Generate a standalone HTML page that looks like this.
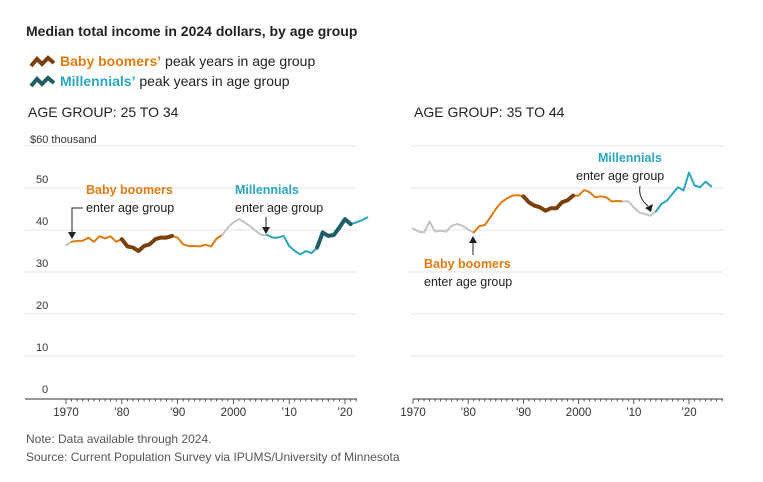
<!DOCTYPE html>
<html><head><meta charset="utf-8">
<style>
body{margin:0;background:#fff;width:763px;height:477px;overflow:hidden;font-family:"Liberation Sans",sans-serif;}
svg text{font-family:"Liberation Sans",sans-serif;}
</style></head>
<body>
<svg id="chart" width="763" height="477" xmlns="http://www.w3.org/2000/svg">
<text x="26" y="36" font-size="14" font-weight="bold" fill="#222">Median total income in 2024 dollars, by age group</text>
<g>
<polyline points="31,66 37,59 42,64 48,58 54,63" fill="none" stroke="#7a3f0a" stroke-width="4"/>
<text x="60" y="66" font-size="14" fill="#222"><tspan fill="#e07b12" font-weight="bold">Baby boomers’</tspan> peak years in age group</text>
<polyline points="31,86 37,79 42,84 48,78 54,83" fill="none" stroke="#1f5e66" stroke-width="4"/>
<text x="60" y="86" font-size="14" fill="#222"><tspan fill="#2aa7bf" font-weight="bold">Millennials’</tspan> peak years in age group</text>
</g>
<text x="28" y="117" font-size="14" fill="#222">AGE GROUP: 25 TO 34</text>
<text x="414" y="117" font-size="14" fill="#222">AGE GROUP: 35 TO 44</text>
<g id="left"></g>
<g id="right"></g>
<text x="30" y="143" font-size="11" fill="#333">$60 thousand</text>
<g font-size="12.5">
<text x="86" y="194" font-weight="bold" fill="#e07b12">Baby boomers</text>
<text x="86" y="212" fill="#222">enter age group</text>
<polyline points="83,208 72,208 72,232" fill="none" stroke="#222" stroke-width="1"/>
<polygon points="68,232 76,232 72,239" fill="#222"/>
<text x="235" y="194" font-weight="bold" fill="#2aa7bf">Millennials</text>
<text x="235" y="212" fill="#222">enter age group</text>
<line x1="266" y1="217" x2="266" y2="228" stroke="#222"/>
<polygon points="262,227 270,227 266,234" fill="#222"/>
<text x="598" y="162" font-weight="bold" fill="#2aa7bf">Millennials</text>
<text x="576" y="180" fill="#222">enter age group</text>
<path d="M640,186 Q638,198 648,206" fill="none" stroke="#222"/>
<polygon points="645,208 653,204 651,212" fill="#222"/>
<text x="424" y="268" font-weight="bold" fill="#e07b12">Baby boomers</text>
<text x="424" y="286" fill="#222">enter age group</text>
<line x1="473" y1="242" x2="473" y2="255" stroke="#222"/>
<polygon points="469,243 477,243 473,236" fill="#222"/>
</g>
<text x="26" y="443" font-size="12" fill="#555">Note: Data available through 2024.</text>
<text x="26" y="461" font-size="12" fill="#555">Source: Current Population Survey via IPUMS/University of Minnesota</text>
</svg>
<script>
const yTicks=[0,10,20,30,40,50,60];
const xTickLabels=["1970","’80","’90","2000","’10","’20"];
const xTickYears=[1970,1980,1990,2000,2010,2020];
const years=[];for(let y=1970;y<=2024;y++)years.push(y);
const left25to34=[36.4,37.2,37.4,37.4,38.2,37.2,38.5,38,38.5,37.2,37.8,36.1,35.8,35,36.2,36.6,37.8,38.2,38.2,38.6,38.2,36.6,36.2,36.2,36.1,36.5,36.1,38,38.8,40.6,41.8,42.6,41.8,40.9,39.8,38.8,38.8,38.2,38.2,38.6,36.2,35,34.2,35,34.5,35.8,39.4,38.6,38.8,40.6,42.6,41.4,41.8,42.3,43];
const right35to44=[40.4,39.6,39.4,42,39.6,39.8,39.6,41,41.4,41,40.1,39.4,40.9,41.2,43,45,46.6,47.5,48.2,48.3,48,46.6,45.8,45.4,44.6,45.2,45.2,46.6,47.1,48.2,48.2,49.5,49,47.8,48,47.8,46.8,46.9,46.8,46.8,45.4,44.2,43.8,43.4,44.4,46.2,47,48.6,50.2,49.4,53.7,50.6,50.2,51.5,50.4];
const leftSegments=[[1970,1971,"#c4c4c4",2],[1971,1998,"#e07b12",2],[1980,1989,"#7a3f0a",4],[1998,2006,"#c4c4c4",2],[2006,2024,"#2aa7bf",2],[2015,2021,"#1f5e66",4]];
const rightSegments=[[1970,1981,"#c4c4c4",2],[1981,2008,"#e07b12",2],[1990,1999,"#7a3f0a",4],[2008,2014,"#c4c4c4",2],[2014,2024,"#2aa7bf",2]];
const NS="http://www.w3.org/2000/svg";
const yScale=v=>398-4.2*v;
function mk(tag,attrs,parent){const e=document.createElementNS(NS,tag);for(const k in attrs)e.setAttribute(k,attrs[k]);parent.appendChild(e);return e;}
function panel(g,x0,pxPerYear,gx0,gx1,axX0,data,segs,showLabels,name){
  const xScale=yr=>x0+(yr-1970)*pxPerYear;
  yTicks.forEach(t=>{if(t===0)return;
    const l=mk("line",{x1:gx0,x2:gx1,y1:yScale(t),y2:yScale(t),stroke:"#e4e4e4","stroke-width":1},g);
    
    
    if(showLabels&&t<60){const tx=mk("text",{x:36,y:yScale(t)-5,"font-size":11,fill:"#333"},g);tx.textContent=String(t);
      
      }
  });
  if(showLabels){const tx=mk("text",{x:42,y:yScale(0)-5,"font-size":11,fill:"#333"},g);tx.textContent="0";
    
    }
  const ax=mk("line",{x1:axX0,x2:gx1,y1:399,y2:399,stroke:"#333","stroke-width":1},g);
  
  
  for(let yr=1970;yr<=2026;yr++){const x=xScale(yr);if(x>gx1)break;
    mk("line",{x1:x,x2:x,y1:399,y2:yr%10===0?404:401.5,stroke:"#333","stroke-width":0.8},g);}
  xTickYears.forEach((yr,i)=>{const t=mk("text",{x:xScale(yr),y:416,"font-size":11.5,fill:"#333","text-anchor":"middle"},g);t.textContent=xTickLabels[i];
    
    });
  segs.forEach(s=>{const pts=[];years.forEach((yr,i)=>{if(yr>=s[0]&&yr<=s[1])pts.push(xScale(yr).toFixed(1)+","+yScale(data[i]).toFixed(1));});
    const p=mk("polyline",{points:pts.join(" "),fill:"none",stroke:s[2],"stroke-width":s[3],"stroke-linejoin":"round","stroke-linecap":"round"},g);
    
    });
}
const gl=document.getElementById('left');


panel(gl,66,5.58,25,357,25,left25to34,leftSegments,true,'age-25-34');
const gr=document.getElementById('right');


panel(gr,413,5.52,410,723,413,right35to44,rightSegments,false,'age-35-44');
</script>
</body></html>
